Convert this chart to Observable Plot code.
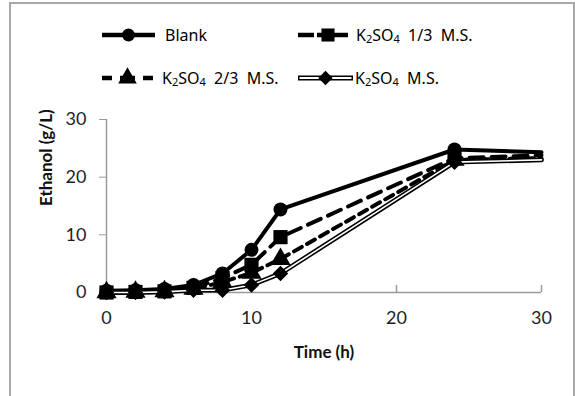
<!DOCTYPE html>
<html><head><meta charset="utf-8">
<script src="https://cdn.jsdelivr.net/npm/d3@7"></script>
<script src="https://cdn.jsdelivr.net/npm/@observablehq/plot@0.6"></script>
<style>
body{margin:0;background:#fff;}
#wrap{position:relative;width:575px;height:396px;overflow:hidden;background:#fff;}
#frame{position:absolute;left:9px;top:2px;width:562px;height:420px;border:2px solid #a8a8a8;border-bottom:none;pointer-events:none;}
#chart{position:absolute;left:0;top:0;}
.leg{position:absolute;display:flex;align-items:center;font-family:"Noto Sans";font-size:16px;color:#000;white-space:pre;height:24px;}
.leg sub{font-size:11px;vertical-align:-2px;line-height:0;}
</style></head><body>
<div id="wrap"><div id="chart"></div><div id="frame"></div></div>
<script>
// ---- data ----
const time        = [0, 2, 4, 6, 8, 10, 12, 24, 30];
const markerTimes = [0, 2, 4, 6, 8, 10, 12, 24];
const blank  = [0.3, 0.4, 0.6, 1.3, 3.3, 7.4, 14.4, 24.8, 24.3];
const ms13   = [0.0, 0.1, 0.2, 0.8, 2.5, 4.8, 9.6, 23.3, 23.8];
const ms23   = [0.0, 0.1, 0.2, 0.6, 1.8, 3.4, 5.8, 23.0, 23.3];
const msFull = [0.0, 0.0, 0.1, 0.4, 0.4, 1.3, 3.3, 22.6, 23.0];
const seriesNames = ["Blank", "K2SO4  1/3  M.S.", "K2SO4  2/3  M.S.", "K2SO4  M.S."];
const xTicks = [0, 10, 20, 30];
const yTicks = [0, 10, 20, 30];
const xLabel = "Time (h)";
const yLabel = "Ethanol (g/L)";

const values = [blank, ms13, ms23, msFull];
const rows = seriesNames.flatMap((s, k) => time.map((t, i) => ({series: s, time: t, value: values[k][i]})));
const ofS = k => rows.filter(d => d.series === seriesNames[k]);
const dotsOf = k => ofS(k).filter(d => markerTimes.includes(d.time));

const styles = [
  {dash: null, symbol: "circle", r: 7},
  {dash: "14,8", symbol: "square", r: 8},
  {dash: "9,6", symbol: "triangle", r: 7.5},
  {dash: null, symbol: "diamond2", r: 7, double: true}
];

const marks = [
  Plot.ruleY([0], {stroke: "#9a9a9a", strokeWidth: 1.5}),
  Plot.ruleX([0], {stroke: "#9a9a9a", strokeWidth: 1.5}),
  Plot.ruleX(xTicks, {stroke: "#9a9a9a", strokeWidth: 1.5, insetTop: 166}),
  Plot.axisY(yTicks, {label: null, tickSize: 7, tickPadding: 13, stroke: "#9a9a9a", fill: "#1e1e2a", fontSize: 18, fontFamily: "Lato"}),
  Plot.axisX(xTicks, {label: null, tickSize: 0, tickPadding: 19, fill: "#1e1e2a", fontSize: 18, fontFamily: "Lato"}),
  Plot.text([yLabel], {frameAnchor: "left", dx: -60, rotate: -90, fontWeight: "bold", fontSize: 17, fontFamily: "Lato", fill: "#111"}),
  Plot.text([xLabel], {frameAnchor: "bottom", dy: 65, fontWeight: "bold", fontSize: 17, fontFamily: "Lato", fill: "#111"})
];
styles.forEach((st, k) => {
  if (st.double) {
    marks.push(Plot.line(ofS(k), {x: "time", y: "value", stroke: "black", strokeWidth: 4.8}));
    marks.push(Plot.line(ofS(k), {x: "time", y: "value", stroke: "white", strokeWidth: 1.6}));
  } else {
    marks.push(Plot.line(ofS(k), {x: "time", y: "value", stroke: "black", strokeWidth: 4, strokeDasharray: st.dash ?? undefined}));
  }
  marks.push(Plot.dot(dotsOf(k), {x: "time", y: "value", symbol: () => st.symbol, r: st.r, fill: "black", stroke: "none"}));
});

const chart = Plot.plot({
  width: 575, height: 396,
  marginLeft: 106, marginRight: 34, marginTop: 119, marginBottom: 104,
  x: {domain: [0, 30], label: null},
  y: {domain: [0, 30], label: null},
  style: {background: "transparent", fontFamily: "Lato"},
  marks
});
document.getElementById("chart").append(chart);

// ---- legend ----
const legPos = [
  {left: 102, top: 23, w: 53, gap: 10},
  {left: 298, top: 23, w: 50, gap: 8},
  {left: 102, top: 66, w: 51, gap: 9},
  {left: 298, top: 66, w: 55, gap: 2}
];
const symMap = {circle: d3.symbolCircle, square: d3.symbolSquare, triangle: d3.symbolTriangle, diamond2: d3.symbolDiamond2};
const fmt = s => s.replace(/K2SO4/, "K<sub>2</sub>SO<sub>4</sub>");
seriesNames.forEach((name, k) => {
  const p = legPos[k], st = styles[k];
  const div = d3.select("#wrap").append("div").attr("class", "leg")
    .style("left", p.left + "px").style("top", p.top + "px");
  const svg = div.append("svg").attr("width", p.w).attr("height", 24).style("margin-right", p.gap + "px");
  if (st.double) {
    svg.append("line").attr("x1", 0).attr("x2", p.w).attr("y1", 12).attr("y2", 12).attr("stroke", "black").attr("stroke-width", 5);
    svg.append("line").attr("x1", 1.5).attr("x2", p.w - 1.5).attr("y1", 12).attr("y2", 12).attr("stroke", "white").attr("stroke-width", 2);
  } else {
    const ln = svg.append("line").attr("x1", 0).attr("x2", p.w).attr("y1", 12).attr("y2", 12).attr("stroke", "black").attr("stroke-width", 4.5);
    if (k === 1) ln.attr("stroke-dasharray", "16,3,31,0");
    if (k === 2) ln.attr("stroke-dasharray", "10,8,15,8,10");
  }
  svg.append("path").attr("transform", `translate(${p.w / 2 + (k === 1 ? 5 : 0)},12)`)
    .attr("d", d3.symbol(symMap[st.symbol], Math.PI * st.r * st.r * 0.85)()).attr("fill", "black");
  div.append("span").html(fmt(name));
});
</script>
</body></html>
